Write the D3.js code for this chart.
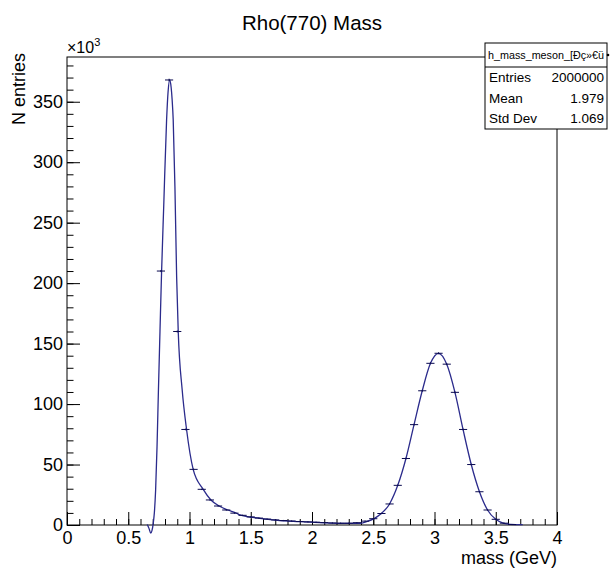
<!DOCTYPE html>
<html lang="en">
<head>
  <meta charset="utf-8">
  <script src="https://d3js.org/d3.v7.min.js"></script>
  <style>
    body { margin: 0; background: #fff; }
    svg { display: block; font-family: "Liberation Sans", Arial, sans-serif; }
  </style>
</head>
<body>
<script>
// histogram: 60 bins over [0, 4] GeV, contents in thousands of entries
const nBins = 60;
const xMin = 0, xMax = 4;
const binValues = [
  0, 0, 0, 0, 0, 0, 0, 0, 0, 0,
  0, 210, 368, 160, 79, 46, 29.5, 20.7, 15.7, 12.4,
  9.8, 8.0, 6.7, 5.7, 4.9, 4.2, 3.7, 3.3, 2.9, 2.6,
  2.3, 2.0, 1.7, 1.5, 1.5, 1.9, 3.2, 5.2, 9.5, 17.4,
  32.8, 55, 83, 111, 133.7, 142, 133, 109.7, 79, 50,
  27.5, 12.4, 4.7, 1.5, 0.4, 0, 0, 0, 0, 0
];

// fitted curve: [mass, entries (k)]
const fitX = [0.655, 0.670, 0.684, 0.694, 0.704, 0.713, 0.7235, 0.735, 0.746, 0.759,
  0.772, 0.790, 0.813, 0.825, 0.838, 0.850, 0.858, 0.867, 0.881, 0.895,
  0.908, 0.940, 0.976, 1.030, 1.112, 1.175, 1.242, 1.313, 1.384, 1.411,
  1.574, 1.737, 1.900, 2.064, 2.227, 2.390, 2.445, 2.510, 2.553, 2.633,
  2.700, 2.767, 2.833, 2.900, 2.967, 3.033, 3.100, 3.167, 3.233, 3.300,
  3.367, 3.433, 3.500, 3.560, 3.620, 3.720];
const fitY = [0.5, -3.0, -6.8, -4.5, 1.4, 10, 29, 65, 110, 160,
  209, 265, 335, 358, 368, 362, 352, 335, 280, 205,
  160, 112, 79, 46, 29.5, 20.7, 15.7, 12.4, 9.7, 8.3,
  5.5, 3.6, 2.8, 2.0, 1.4, 1.4, 2.8, 5.5, 8.5, 17.4,
  32.8, 55, 83, 111, 133.7, 142, 133, 109.7, 79, 50,
  27.5, 12.4, 4.7, 1.6, 0.6, 0.3];

const xMajor = [0, 0.5, 1, 1.5, 2, 2.5, 3, 3.5, 4];
const yMajor = [0, 50, 100, 150, 200, 250, 300, 350];

const titleText = "Rho(770) Mass";
const statName = "h_mass_meson_[Đç»€ü";
const statLabels = ["Entries", "Mean", "Std Dev"];
const statValues = ["2000000", "1.979", "1.069"];

// canvas
const W = 612, H = 569;
const padL = 67, padR = 557, padT = 57, padB = 525;

const svg = d3.select("body").append("svg")
  .attr("width", W)
  .attr("height", H);

const x = d3.scaleLinear().domain([xMin, xMax]).range([padL, padR]);
const y = d3.scaleLinear().domain([0, 387]).range([padB, padT]);

const binW = (xMax - xMin) / nBins;

// frame
svg.append("rect")
  .attr("x", padL).attr("y", padT)
  .attr("width", padR - padL).attr("height", padB - padT)
  .attr("fill", "none").attr("stroke", "#000").attr("stroke-width", 1);

// axes: minor and major ticks drawn inside the frame
function styleAxis(g) {
  g.select(".domain").remove();
  g.selectAll("line").attr("stroke", "#000");
  g.selectAll("text").attr("font-size", 18).attr("font-family", "Liberation Sans, Arial, sans-serif").attr("fill", "#000");
}

svg.append("g")
  .attr("transform", `translate(0,${padB})`)
  .call(d3.axisBottom(x).tickValues(d3.range(0, 41).map(i => i / 10)).tickSize(-6).tickFormat(""))
  .call(styleAxis);
svg.append("g")
  .attr("transform", `translate(0,${padB})`)
  .call(d3.axisBottom(x).tickValues(xMajor).tickSize(-13).tickPadding(6).tickFormat(d3.format("")))
  .call(styleAxis);

svg.append("g")
  .attr("transform", `translate(${padL},0)`)
  .call(d3.axisLeft(y).tickValues(d3.range(0, 39).map(i => i * 10)).tickSize(-6.5).tickFormat(""))
  .call(styleAxis);
svg.append("g")
  .attr("transform", `translate(${padL},0)`)
  .call(d3.axisLeft(y).tickValues(yMajor).tickSize(-13).tickPadding(4).tickFormat(d3.format("")))
  .call(styleAxis);

// fit curve
const pts = fitX.map((v, i) => [v, fitY[i]]);
svg.append("path")
  .datum(pts)
  .attr("fill", "none")
  .attr("stroke", "#2b2b8c")
  .attr("stroke-width", 1.3)
  .attr("d", d3.line().x(d => x(d[0])).y(d => y(d[1])).curve(d3.curveMonotoneX));

// histogram points with error bars
const bins = binValues.map((v, i) => ({ lo: xMin + i * binW, v: v }))
  .filter(d => d.v > 0);
const hist = svg.append("g").attr("stroke", "#0a0a50").attr("stroke-width", 1);
hist.selectAll("line.h")
  .data(bins).enter().append("line")
  .attr("class", "h")
  .attr("x1", d => x(d.lo)).attr("x2", d => x(d.lo + binW))
  .attr("y1", d => y(d.v)).attr("y2", d => y(d.v));
hist.selectAll("line.e")
  .data(bins).enter().append("line")
  .attr("class", "e")
  .attr("x1", d => x(d.lo + binW / 2)).attr("x2", d => x(d.lo + binW / 2))
  .attr("y1", d => y(d.v + Math.sqrt(d.v * 1000) / 1000) - 0.5)
  .attr("y2", d => y(d.v - Math.sqrt(d.v * 1000) / 1000) + 0.5);

// titles
svg.append("text")
  .attr("x", 312).attr("y", 30)
  .attr("text-anchor", "middle")
  .attr("font-size", 20.5)
  .text(titleText);

svg.append("text")
  .attr("transform", "translate(25,53) rotate(-90)")
  .attr("text-anchor", "end")
  .attr("font-size", 18)
  .text("N entries");

svg.append("text")
  .attr("x", padR).attr("y", 564)
  .attr("text-anchor", "end")
  .attr("font-size", 18)
  .text("mass (GeV)");

const mult = svg.append("text")
  .attr("x", 67).attr("y", 53)
  .attr("font-size", 16);
mult.append("tspan").text("\u00d710");
mult.append("tspan").attr("font-size", 11).attr("dy", -7).text("3");

// stats box
const sb = svg.append("g");
sb.append("rect")
  .attr("x", 485).attr("y", 43).attr("width", 122).attr("height", 86)
  .attr("fill", "#fff").attr("stroke", "#000").attr("stroke-width", 1);
sb.append("line")
  .attr("x1", 485).attr("x2", 607).attr("y1", 67).attr("y2", 67)
  .attr("stroke", "#000");
sb.append("text")
  .attr("x", 488).attr("y", 59)
  .attr("font-size", 11)
  .attr("textLength", 116).attr("lengthAdjust", "spacingAndGlyphs")
  .text(statName);
sb.append("circle").attr("cx", 608).attr("cy", 55).attr("r", 1.3).attr("fill", "#000");
statLabels.forEach((lab, i) => {
  sb.append("text")
    .attr("x", 489).attr("y", 82 + i * 20.7)
    .attr("font-size", 13.5)
    .text(lab);
  sb.append("text")
    .attr("x", 604).attr("y", 82 + i * 20.7)
    .attr("text-anchor", "end")
    .attr("font-size", 13.5)
    .text(statValues[i]);
});
</script>
</body>
</html>
